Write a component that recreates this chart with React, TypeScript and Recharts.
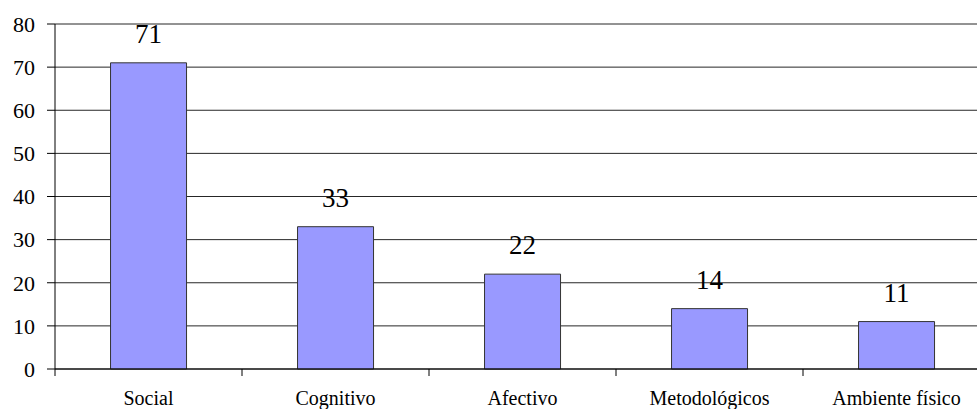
import { BarChart, Bar, XAxis, YAxis, CartesianGrid, LabelList } from "recharts";

// Categories and counts
const categories = ["Social", "Cognitivo", "Afectivo", "Metodológicos", "Ambiente físico"];
const counts = [71, 33, 22, 14, 11];
const yTicks = [0, 10, 20, 30, 40, 50, 60, 70, 80];

const data = categories.map((name, i) => ({ name, value: counts[i] }));

const CHART_W = 990;
const AXIS_W = 55;
const BAND = (CHART_W - AXIS_W) / categories.length;
const FONT = "Liberation Serif, Times New Roman, serif";

function CategoryTick(props: any) {
    const { x, y, payload, index } = props;
    const left = x - BAND / 2;
    return (
        <g>
            <line x1={left} y1={y} x2={left} y2={y + 7} stroke="#000" />
            {index === categories.length - 1 && (
                <line x1={x + BAND / 2} y1={y} x2={x + BAND / 2} y2={y + 7} stroke="#000" />
            )}
            <text x={x} y={y + 36} textAnchor="middle" fill="#000" fontFamily={FONT} fontSize={20}>
                {payload.value}
            </text>
        </g>
    );
}

export default function App() {
    return (
        <div
            style={{
                position: "absolute",
                left: 0,
                top: 0,
                width: 977,
                height: 409,
                overflow: "hidden",
                background: "#fff",
                fontFamily: FONT,
            }}
        >
            <BarChart
                width={CHART_W}
                height={409}
                data={data}
                margin={{ top: 24, right: 0, left: 0, bottom: 0 }}
                barCategoryGap="29.7%"
            >
                <CartesianGrid vertical={false} stroke="#000" strokeOpacity={0.85} />
                <XAxis
                    dataKey="name"
                    height={40}
                    tickLine={false}
                    tickSize={0}
                    tickMargin={0}
                    axisLine={{ stroke: "#000" }}
                    tick={<CategoryTick />}
                    interval={0}
                />
                <YAxis
                    width={AXIS_W}
                    domain={[0, 80]}
                    ticks={yTicks}
                    interval={0}
                    tickSize={8}
                    tickMargin={12}
                    axisLine={{ stroke: "#000" }}
                    tickLine={{ stroke: "#000" }}
                    tick={{ fill: "#000", fontSize: 22, fontFamily: FONT }}
                />
                <Bar dataKey="value" fill="#9999FF" stroke="#333" strokeWidth={1} isAnimationActive={false}>
                    <LabelList dataKey="value" position="top" offset={20} fill="#000" fontSize={27} fontFamily={FONT} />
                </Bar>
            </BarChart>
        </div>
    );
}
